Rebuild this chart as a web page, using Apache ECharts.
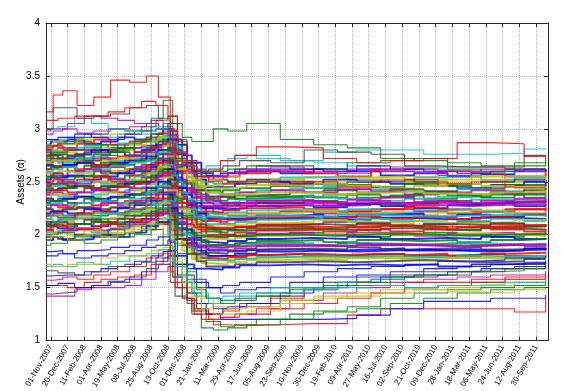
<!DOCTYPE html>
<html><head><meta charset="utf-8">
<script src="https://cdn.jsdelivr.net/npm/echarts/dist/echarts.min.js"></script>
<style>html,body{margin:0;padding:0;background:#fff}#c{width:568px;height:391px}</style>
</head><body><div id="c"></div>
<script>
// ---- axis labels ----
const tickLabels = ['01-Nov-2007','20-Dec-2007','11-Feb-2008','01-Apr-2008','19-May-2008','08-Jul-2008','25-Aug-2008','13-Oct-2008','01-Dec-2008','21-Jan-2009','11-Mar-2009','29-Apr-2009','17-Jun-2009','05-Aug-2009','23-Sep-2009','10-Nov-2009','30-Dec-2009','19-Feb-2010','09-Apr-2010','27-May-2010','16-Jul-2010','02-Sep-2010','21-Oct-2010','09-Dec-2010','28-Jan-2011','18-Mar-2011','06-May-2011','24-Jun-2011','12-Aug-2011','30-Sep-2011'];
const firstTick = 2, tickStep = 7, nWeeks = 211;
const yTicks = [1, 1.5, 2, 2.5, 3, 3.5, 4];

// ---- sample dates (week index) ----
const gridA = [0,2,9,16,23,30,37,44,49,53,57,61,65,70,76,84,98,112,126,140,154,168,182,196,209];
const gridB = [0,5,12,19,26,33,40,46,51,55,59,63,67,73,79,88,102,116,130,144,158,172,186,200,209];
const gridC = [0,3,7,13,20,27,35,42,47,52,54,59,62,68,74,81,94,108,122,136,150,164,178,192,209];

// ---- main band ----
const m01=[2.85,2.88,2.9,2.86,2.88,2.92,2.9,2.95,3.0,2.9,2.75,2.68,2.58,2.55,2.58,2.6,2.58,2.62,2.6,2.56,2.58,2.55,2.57,2.6,2.62];
const m02=[2.82,2.84,2.8,2.86,2.9,2.85,2.88,2.92,2.96,2.85,2.7,2.62,2.55,2.52,2.55,2.58,2.6,2.58,2.55,2.6,2.62,2.6,2.58,2.55,2.6];
const m03=[2.8,2.78,2.82,2.84,2.8,2.86,2.82,2.9,2.94,2.82,2.68,2.58,2.5,2.48,2.5,2.52,2.54,2.55,2.52,2.5,2.54,2.56,2.52,2.54,2.52];
const m04=[2.76,2.8,2.78,2.75,2.82,2.8,2.85,2.88,2.92,2.8,2.62,2.54,2.48,2.46,2.48,2.5,2.52,2.5,2.54,2.55,2.5,2.52,2.55,2.5,2.52];
const m05=[2.75,2.72,2.76,2.8,2.78,2.75,2.8,2.85,2.9,2.76,2.6,2.52,2.45,2.45,2.48,2.5,2.48,2.52,2.5,2.48,2.46,2.44,2.47,2.5,2.46];
const m06=[2.72,2.75,2.7,2.72,2.76,2.78,2.75,2.82,2.88,2.74,2.58,2.5,2.42,2.4,2.42,2.44,2.46,2.44,2.47,2.45,2.48,2.46,2.44,2.47,2.46];
const m07=[2.7,2.68,2.72,2.74,2.7,2.72,2.76,2.8,2.86,2.72,2.55,2.46,2.4,2.38,2.4,2.42,2.44,2.46,2.43,2.41,2.4,2.43,2.41,2.44,2.42];
const m08=[2.68,2.7,2.66,2.7,2.72,2.68,2.74,2.78,2.84,2.7,2.52,2.44,2.38,2.36,2.38,2.4,2.42,2.4,2.43,2.41,2.38,2.4,2.42,2.39,2.41];
const m09=[2.65,2.66,2.68,2.64,2.66,2.7,2.72,2.76,2.82,2.66,2.5,2.42,2.36,2.35,2.37,2.38,2.4,2.42,2.4,2.43,2.41,2.38,2.4,2.42,2.44];
const m10=[2.62,2.64,2.6,2.65,2.68,2.66,2.7,2.72,2.8,2.64,2.48,2.4,2.34,2.32,2.34,2.36,2.37,2.35,2.38,2.36,2.39,2.37,2.35,2.38,2.36];
const m11=[2.6,2.62,2.64,2.6,2.62,2.65,2.68,2.7,2.78,2.62,2.46,2.38,2.32,2.3,2.31,2.33,2.34,2.36,2.34,2.32,2.34,2.36,2.33,2.32,2.34];
const m12=[2.58,2.56,2.6,2.62,2.58,2.6,2.64,2.68,2.76,2.6,2.44,2.35,2.3,2.28,2.3,2.32,2.33,2.31,2.33,2.35,2.31,2.3,2.32,2.34,2.32];
const m13=[2.55,2.58,2.55,2.56,2.6,2.58,2.62,2.66,2.72,2.56,2.4,2.32,2.27,2.26,2.28,2.3,2.3,2.32,2.29,2.28,2.3,2.32,2.29,2.31,2.3];
const m14=[2.52,2.54,2.56,2.52,2.55,2.58,2.6,2.64,2.7,2.54,2.38,2.3,2.25,2.24,2.25,2.27,2.28,2.26,2.29,2.27,2.25,2.28,2.3,2.27,2.29];
const m15=[2.5,2.52,2.48,2.52,2.54,2.5,2.56,2.62,2.68,2.52,2.36,2.28,2.22,2.21,2.23,2.25,2.26,2.24,2.22,2.24,2.26,2.24,2.22,2.24,2.26];
const m16=[2.48,2.46,2.5,2.5,2.48,2.52,2.55,2.6,2.66,2.5,2.34,2.25,2.2,2.19,2.21,2.23,2.24,2.22,2.24,2.21,2.23,2.24,2.22,2.2,2.22];
const m17=[2.45,2.48,2.45,2.46,2.5,2.48,2.52,2.58,2.64,2.46,2.3,2.22,2.18,2.17,2.19,2.2,2.21,2.23,2.2,2.21,2.19,2.21,2.23,2.2,2.21];
const m18=[2.42,2.44,2.46,2.42,2.45,2.48,2.5,2.55,2.62,2.44,2.28,2.2,2.16,2.15,2.16,2.18,2.19,2.17,2.19,2.2,2.17,2.19,2.17,2.19,2.2];
const m19=[2.4,2.42,2.4,2.44,2.42,2.45,2.48,2.52,2.58,2.42,2.26,2.18,2.13,2.12,2.14,2.16,2.17,2.15,2.17,2.15,2.17,2.15,2.17,2.19,2.17];
const m20=[2.38,2.36,2.4,2.38,2.4,2.42,2.45,2.5,2.56,2.4,2.24,2.15,2.1,2.1,2.12,2.14,2.15,2.13,2.15,2.13,2.11,2.13,2.15,2.13,2.15];
const m21=[2.35,2.38,2.35,2.36,2.4,2.38,2.42,2.48,2.54,2.36,2.2,2.12,2.08,2.07,2.09,2.11,2.12,2.14,2.12,2.11,2.13,2.11,2.12,2.14,2.12];
const m22=[2.32,2.34,2.36,2.32,2.35,2.38,2.4,2.45,2.52,2.34,2.18,2.1,2.06,2.05,2.07,2.09,2.1,2.09,2.11,2.08,2.1,2.09,2.11,2.09,2.1];
const m23=[2.3,2.32,2.3,2.34,2.32,2.35,2.38,2.42,2.48,2.32,2.16,2.08,2.03,2.02,2.04,2.06,2.07,2.05,2.07,2.09,2.07,2.05,2.07,2.08,2.07];
const m24=[2.28,2.26,2.3,2.28,2.3,2.32,2.35,2.4,2.46,2.3,2.14,2.05,2.0,2.0,2.02,2.04,2.05,2.03,2.05,2.03,2.05,2.07,2.05,2.03,2.05];
const m25=[2.25,2.28,2.25,2.26,2.3,2.28,2.32,2.38,2.44,2.26,2.1,2.02,1.98,1.97,1.99,2.01,2.02,2.0,2.02,2.01,1.99,2.01,2.02,2.0,2.02];
const m26=[2.22,2.24,2.26,2.22,2.25,2.28,2.3,2.35,2.42,2.24,2.08,2.0,1.96,1.95,1.97,1.99,2.0,1.99,2.01,2.0,1.99,2.01,2.0,1.99,2.01];
const m27=[2.2,2.22,2.2,2.24,2.22,2.25,2.28,2.32,2.38,2.2,2.05,1.97,1.93,1.92,1.94,1.96,1.97,1.96,1.98,1.96,1.97,1.96,1.98,1.96,1.97];
const m28=[2.18,2.16,2.2,2.18,2.2,2.22,2.25,2.3,2.36,2.18,2.02,1.95,1.9,1.9,1.92,1.94,1.95,1.93,1.95,1.94,1.95,1.93,1.95,1.96,1.95];
const m29=[2.15,2.18,2.15,2.16,2.2,2.18,2.22,2.28,2.32,2.14,2.0,1.92,1.88,1.87,1.89,1.91,1.92,1.9,1.92,1.91,1.9,1.92,1.91,1.9,1.92];
const m30=[2.12,2.14,2.16,2.12,2.15,2.18,2.2,2.25,2.3,2.12,1.97,1.9,1.86,1.85,1.87,1.89,1.9,1.89,1.91,1.9,1.89,1.9,1.91,1.89,1.9];
const m31=[2.1,2.12,2.1,2.14,2.12,2.15,2.18,2.22,2.28,2.1,1.95,1.88,1.83,1.82,1.84,1.86,1.87,1.86,1.88,1.86,1.87,1.88,1.86,1.87,1.88];
const m32=[2.08,2.06,2.1,2.08,2.1,2.12,2.15,2.2,2.25,2.06,1.92,1.85,1.8,1.8,1.82,1.84,1.85,1.84,1.85,1.86,1.85,1.84,1.85,1.87,1.85];
const m33=[2.05,2.08,2.05,2.06,2.1,2.08,2.12,2.18,2.22,2.04,1.9,1.82,1.78,1.77,1.79,1.81,1.82,1.81,1.82,1.81,1.82,1.8,1.82,1.83,1.82];
const m34=[2.02,2.04,2.06,2.02,2.05,2.08,2.1,2.15,2.2,2.02,1.88,1.8,1.76,1.75,1.77,1.79,1.8,1.79,1.8,1.79,1.78,1.8,1.79,1.8,1.81];
const m35=[2.0,2.02,2.0,2.04,2.02,2.05,2.08,2.12,2.16,1.98,1.85,1.77,1.73,1.72,1.74,1.76,1.77,1.76,1.78,1.77,1.76,1.78,1.77,1.78,1.79];
const m36=[1.98,1.96,2.0,1.98,2.0,2.02,2.05,2.1,2.14,1.96,1.82,1.75,1.7,1.7,1.72,1.74,1.75,1.74,1.75,1.76,1.75,1.74,1.75,1.77,1.77];
const m37=[1.95,1.98,1.95,1.96,2.0,1.98,2.02,2.08,2.12,1.93,1.8,1.72,1.68,1.67,1.69,1.71,1.72,1.71,1.72,1.71,1.72,1.7,1.72,1.73,1.74];
const n01=[2.84,2.86,2.88,2.85,2.82,2.86,2.88,2.92,2.98,2.85,2.65,2.52,2.42,2.36,2.34,2.35,2.36,2.38,2.35,2.37,2.34,2.36,2.38,2.35,2.36];
const n02=[2.78,2.76,2.74,2.78,2.8,2.82,2.78,2.84,2.9,2.8,2.68,2.6,2.55,2.52,2.5,2.52,2.5,2.48,2.5,2.52,2.5,2.48,2.5,2.52,2.5];
const n03=[2.74,2.72,2.75,2.7,2.72,2.74,2.78,2.82,2.86,2.7,2.5,2.35,2.25,2.2,2.18,2.2,2.22,2.2,2.22,2.24,2.22,2.2,2.22,2.24,2.22];
const n04=[2.68,2.7,2.69,2.66,2.7,2.72,2.7,2.76,2.84,2.72,2.6,2.52,2.46,2.44,2.45,2.47,2.46,2.48,2.46,2.44,2.46,2.48,2.46,2.44,2.46];
const n05=[2.62,2.64,2.62,2.66,2.64,2.62,2.66,2.7,2.78,2.6,2.4,2.25,2.15,2.1,2.08,2.1,2.1,2.12,2.1,2.08,2.1,2.12,2.1,2.08,2.1];
const n06=[2.58,2.6,2.58,2.56,2.6,2.62,2.6,2.66,2.74,2.62,2.5,2.44,2.4,2.38,2.38,2.4,2.4,2.38,2.4,2.41,2.39,2.38,2.4,2.41,2.39];
const n07=[2.54,2.52,2.55,2.56,2.53,2.56,2.58,2.62,2.7,2.5,2.3,2.15,2.05,2.0,1.98,2.0,2.02,2.0,1.98,2.0,2.02,2.0,1.98,2.0,2.02];
const n08=[2.48,2.5,2.48,2.5,2.52,2.5,2.54,2.58,2.64,2.52,2.42,2.36,2.32,2.3,2.3,2.32,2.32,2.3,2.32,2.3,2.32,2.3,2.31,2.32,2.3];
const n09=[2.44,2.42,2.44,2.46,2.44,2.46,2.5,2.54,2.6,2.4,2.2,2.05,1.95,1.9,1.9,1.92,1.92,1.9,1.92,1.9,1.91,1.92,1.9,1.91,1.92];
const n10=[2.38,2.4,2.38,2.4,2.42,2.4,2.44,2.48,2.56,2.45,2.36,2.3,2.27,2.26,2.27,2.28,2.28,2.27,2.28,2.3,2.28,2.27,2.28,2.29,2.28];
const n11=[2.34,2.32,2.34,2.36,2.34,2.36,2.38,2.44,2.5,2.3,2.1,1.96,1.88,1.85,1.85,1.86,1.86,1.85,1.86,1.87,1.85,1.86,1.85,1.86,1.87];
const n12=[2.28,2.3,2.28,2.3,2.32,2.3,2.34,2.4,2.46,2.34,2.25,2.2,2.17,2.16,2.17,2.18,2.18,2.17,2.19,2.18,2.17,2.18,2.19,2.18,2.19];
const n13=[2.24,2.22,2.24,2.26,2.24,2.26,2.3,2.34,2.4,2.2,2.0,1.88,1.82,1.8,1.8,1.81,1.82,1.8,1.81,1.82,1.8,1.81,1.82,1.8,1.81];
const n14=[2.18,2.2,2.18,2.2,2.22,2.2,2.24,2.28,2.34,2.24,2.15,2.1,2.07,2.06,2.07,2.08,2.08,2.07,2.08,2.09,2.08,2.07,2.08,2.09,2.08];
const n15=[2.14,2.12,2.14,2.16,2.14,2.16,2.2,2.24,2.3,2.1,1.92,1.82,1.78,1.76,1.77,1.78,1.79,1.78,1.79,1.78,1.79,1.78,1.79,1.8,1.79];
const n16=[2.08,2.1,2.08,2.1,2.12,2.1,2.14,2.18,2.24,2.14,2.06,2.02,1.99,1.98,1.99,2.0,2.0,1.99,2.0,2.01,2.0,1.99,2.0,2.01,2.0];
const n17=[2.04,2.02,2.04,2.06,2.04,2.06,2.1,2.14,2.2,2.05,1.96,1.92,1.89,1.88,1.89,1.9,1.9,1.89,1.9,1.91,1.9,1.89,1.9,1.91,1.9];
const n18=[2.8,2.82,2.8,2.78,2.8,2.82,2.84,2.88,2.94,2.78,2.58,2.44,2.34,2.3,2.28,2.3,2.3,2.28,2.3,2.29,2.3,2.28,2.3,2.31,2.3];
const n19=[2.66,2.64,2.66,2.68,2.66,2.68,2.7,2.74,2.8,2.64,2.45,2.3,2.2,2.15,2.14,2.15,2.16,2.15,2.14,2.16,2.15,2.14,2.16,2.15,2.14];
const n20=[2.46,2.48,2.46,2.44,2.46,2.48,2.5,2.56,2.62,2.45,2.3,2.16,2.08,2.05,2.04,2.05,2.06,2.05,2.04,2.06,2.05,2.04,2.06,2.05,2.04];

// ---- lower tail ----
const t01=[1.42,1.42,1.48,1.5,1.5,1.52,1.58,1.65,1.7,1.5,1.38,1.3,1.25,1.22,1.25,1.3,1.38,1.45,1.5,1.55,1.58,1.6,1.62,1.62,1.66];
const t02=[1.44,1.45,1.46,1.5,1.52,1.55,1.6,1.68,1.72,1.55,1.42,1.35,1.28,1.25,1.3,1.35,1.42,1.5,1.55,1.58,1.6,1.62,1.65,1.68,1.7];
const t03=[1.52,1.52,1.5,1.55,1.58,1.6,1.62,1.72,1.78,1.6,1.4,1.28,1.2,1.15,1.14,1.15,1.16,1.16,1.24,1.3,1.3,1.3,1.3,1.27,1.4];
const t04=[1.52,1.54,1.5,1.52,1.56,1.58,1.65,1.75,1.8,1.62,1.45,1.35,1.25,1.2,1.2,1.2,1.2,1.21,1.24,1.3,1.37,1.37,1.4,1.4,1.43];
const t05=[1.57,1.58,1.6,1.58,1.62,1.65,1.7,1.78,1.82,1.65,1.5,1.4,1.3,1.25,1.28,1.32,1.4,1.48,1.52,1.52,1.55,1.55,1.58,1.6,1.62];
const t06=[1.61,1.62,1.62,1.65,1.68,1.7,1.75,1.8,1.84,1.7,1.55,1.45,1.35,1.3,1.32,1.35,1.45,1.5,1.55,1.6,1.62,1.65,1.68,1.7,1.72];
const t07=[1.66,1.64,1.62,1.65,1.7,1.72,1.74,1.78,1.85,1.72,1.58,1.48,1.4,1.38,1.4,1.45,1.5,1.55,1.6,1.62,1.65,1.66,1.68,1.72,1.74];
const t08=[1.7,1.72,1.7,1.74,1.72,1.75,1.8,1.82,1.86,1.75,1.6,1.5,1.42,1.35,1.38,1.42,1.45,1.5,1.55,1.58,1.5,1.52,1.55,1.58,1.6];
const t09=[1.72,1.7,1.72,1.72,1.78,1.8,1.8,1.85,1.88,1.78,1.62,1.5,1.4,1.32,1.3,1.32,1.38,1.42,1.45,1.48,1.48,1.5,1.52,1.55,1.58];
const t10=[1.8,1.82,1.78,1.8,1.82,1.85,1.88,1.9,1.95,1.82,1.68,1.58,1.5,1.45,1.48,1.5,1.55,1.6,1.62,1.65,1.68,1.7,1.72,1.74,1.76];
const t11=[1.84,1.85,1.82,1.85,1.86,1.88,1.9,1.95,1.98,1.85,1.72,1.62,1.55,1.5,1.52,1.55,1.6,1.65,1.68,1.7,1.72,1.75,1.76,1.78,1.8];
const t12=[1.9,1.92,1.95,1.92,1.95,1.98,2.0,2.05,1.9,1.6,1.4,1.25,1.12,1.1,1.12,1.15,1.2,1.28,1.32,1.4,1.45,1.48,1.5,1.52,1.55];
const t13=[2.0,2.02,1.98,2.0,2.05,2.02,2.08,2.12,2.0,1.7,1.45,1.3,1.18,1.13,1.15,1.2,1.25,1.27,1.3,1.35,1.4,1.45,1.48,1.5,1.5];
const t14=[2.05,2.08,2.1,2.05,2.08,2.12,2.15,2.2,2.1,1.8,1.55,1.4,1.25,1.2,1.22,1.25,1.3,1.35,1.4,1.45,1.5,1.52,1.55,1.58,1.6];
const t15=[1.95,1.98,1.95,2.0,1.98,2.02,2.05,2.1,2.0,1.75,1.55,1.42,1.3,1.25,1.25,1.28,1.35,1.4,1.42,1.45,1.48,1.46,1.45,1.48,1.5];
const t16=[2.1,2.12,2.1,2.15,2.12,2.18,2.2,2.25,2.2,1.9,1.65,1.5,1.4,1.35,1.38,1.42,1.48,1.52,1.55,1.6,1.62,1.65,1.66,1.68,1.7];
const t17=[2.15,2.12,2.15,2.18,2.2,2.2,2.25,2.3,2.25,1.95,1.7,1.55,1.45,1.4,1.42,1.45,1.5,1.48,1.5,1.52,1.5,1.52,1.53,1.55,1.58];

// ---- upper outliers ----
const u01=[3.16,3.32,3.36,3.22,3.3,3.46,3.44,3.5,3.3,3.0,2.78,2.66,2.55,2.5,2.48,2.5,2.48,2.5,2.45,2.5,2.52,2.48,2.5,2.45,2.46];
const u02=[3.08,3.1,3.12,3.12,3.16,3.2,3.26,3.22,3.12,2.88,2.7,2.6,2.6,2.7,2.75,2.83,2.82,2.72,2.68,2.7,2.72,2.87,2.86,2.74,2.72];
const u03=[3.0,3.2,3.2,3.1,3.12,3.14,3.2,3.22,3.1,2.9,2.72,2.64,2.6,2.62,2.65,2.7,2.68,2.8,2.78,2.76,2.65,2.64,2.64,2.62,2.6];
const u04=[2.7,2.72,2.75,2.7,2.75,2.8,2.9,3.1,3.27,3.05,2.92,2.88,2.88,3.0,2.98,3.05,2.9,2.85,2.82,2.72,2.7,2.62,2.6,2.65,2.7];
const u05=[3.0,3.02,3.1,3.05,3.0,2.98,2.95,3.0,2.92,2.78,2.65,2.6,2.65,2.7,2.75,2.72,2.7,2.78,2.8,2.8,2.76,2.76,2.77,2.81,2.82];
const u06=[2.98,3.0,3.05,3.12,3.1,3.08,3.05,3.08,2.98,2.8,2.65,2.58,2.55,2.55,2.58,2.6,2.6,2.58,2.62,2.6,2.58,2.6,2.62,2.6,2.62];
const u07=[2.95,2.98,3.0,2.96,2.98,3.0,3.02,3.05,3.0,2.82,2.66,2.6,2.55,2.56,2.58,2.62,2.64,2.6,2.58,2.62,2.6,2.56,2.6,2.62,2.6];
const u08=[2.9,2.92,2.95,2.92,2.9,2.95,2.98,3.0,3.05,2.85,2.68,2.6,2.56,2.58,2.6,2.62,2.62,2.6,2.65,2.62,2.6,2.58,2.6,2.62,2.6];
const u09=[2.75,2.78,2.8,2.82,2.85,2.82,2.88,2.95,3.02,2.8,2.65,2.6,2.58,2.6,2.62,2.65,2.65,2.62,2.68,2.7,2.72,2.68,2.65,2.68,2.72];
const u10=[2.85,2.88,2.85,2.9,2.92,2.95,2.98,3.05,3.08,2.85,2.62,2.55,2.5,2.52,2.55,2.5,2.52,2.55,2.5,2.52,2.55,2.5,2.52,2.55,2.5];
const u11=[2.9,2.88,2.92,2.95,3.0,2.98,3.02,3.08,3.12,2.9,2.7,2.62,2.6,2.58,2.62,2.65,2.62,2.6,2.62,2.64,2.64,2.64,2.64,2.75,2.72];
const u12=[2.88,2.9,2.92,2.95,2.92,2.95,2.98,3.02,3.05,2.82,2.65,2.58,2.55,2.6,2.72,2.75,2.7,2.68,2.65,2.6,2.62,2.6,2.58,2.6,2.62];

// ---- styling / assembly ----
const palette = {b:'#0000ff', g:'#008000', r:'#ff0000', c:'#00bfbf', m:'#bf00bf', y:'#bfbf00', k:'#404040'};
const cycle = ['b','g','r','c','m','y','k'];
const grids = [gridA, gridB, gridC];
const band = [m01,n01,m02,m03,n18,m04,n02,m05,m06,n03,m07,m08,n04,m09,n19,m10,n05,m11,m12,n06,m13,m14,n07,m15,m16,n08,m17,n20,m18,n09,m19,m20,n10,m21,m22,n11,m23,m24,n12,m25,m26,n13,m27,m28,n14,m29,m30,n15,m31,m32,n16,m33,m34,n17,m35,m36,m37];
const tail = [[t01,'m'],[t02,'k'],[t03,'r'],[t04,'b'],[t05,'r'],[t06,'b'],[t07,'k'],[t08,'c'],[t09,'y'],[t10,'b'],[t11,'b'],[t12,'g'],[t13,'g'],[t14,'r'],[t15,'y'],[t16,'g'],[t17,'c']];
const upper = [[u12,'c'],[u11,'k'],[u10,'y'],[u09,'g'],[u08,'b'],[u07,'m'],[u06,'m'],[u05,'c'],[u03,'k'],[u04,'g'],[u02,'r'],[u01,'r']];

function mk(vals, grid, col, w){
  return {type:'line', step:'end', symbol:'none', showSymbol:false, silent:true, z:2,
    lineStyle:{width:w, color:palette[col], opacity:0.85},
    data: vals.map((v,k)=>[grid[k], v])};
}
const series = [];
band.forEach((v,i)=>series.push(mk(v, grids[i%3], cycle[i%7], 1.9)));
tail.forEach((p,i)=>series.push(mk(p[0], grids[(i+1)%3], p[1], 1.1)));
upper.forEach((p,i)=>series.push(mk(p[0], grids[i%3], p[1], 1.1)));

const cats = [];
for (let i=0;i<nWeeks;i++) cats.push(String(i));
const isTick = (i)=> i>=firstTick && (i-firstTick)%tickStep===0 && (i-firstTick)/tickStep < tickLabels.length;
const axisCol = '#262626';
const font = 'Liberation Sans, Arial, sans-serif';

const chart = echarts.init(document.getElementById('c'), null, {renderer:'canvas'});
chart.setOption({
  animation:false,
  backgroundColor:'#fff',
  grid:{left:46, right:20, top:23, bottom:49},
  xAxis:[{
    type:'category', data:cats, boundaryGap:false, position:'bottom',
    axisLine:{show:true, lineStyle:{color:axisCol}},
    axisTick:{show:true, inside:true, length:4, interval:(i)=>isTick(i), lineStyle:{color:axisCol}},
    axisLabel:{interval:(i)=>isTick(i), rotate:60, fontSize:8, color:'#000', fontFamily:font, margin:5,
      formatter:(v,i)=> isTick(Number(v)) ? tickLabels[(Number(v)-firstTick)/tickStep] : ''},
    splitLine:{show:true, interval:(i)=>isTick(i), lineStyle:{type:'dotted', color:'#b8b8b8'}}
  },{
    type:'category', data:cats, boundaryGap:false, position:'top',
    axisLine:{show:true, lineStyle:{color:axisCol}},
    axisTick:{show:true, inside:true, length:4, interval:(i)=>isTick(i), lineStyle:{color:axisCol}},
    axisLabel:{show:false}, splitLine:{show:false}
  }],
  yAxis:[{
    type:'value', min:yTicks[0], max:yTicks[yTicks.length-1], interval:0.5, position:'left',
    name:'Assets (α)', nameLocation:'middle', nameGap:20, nameMoveOverlap:false,
    nameTextStyle:{fontSize:10, color:'#000', fontFamily:font},
    axisLine:{show:true, lineStyle:{color:axisCol}},
    axisTick:{show:true, inside:true, length:4, lineStyle:{color:axisCol}},
    axisLabel:{fontSize:10, color:'#000', fontFamily:font, margin:6},
    splitLine:{show:true, lineStyle:{type:'dotted', color:'#b8b8b8'}}
  },{
    type:'value', min:yTicks[0], max:yTicks[yTicks.length-1], interval:0.5, position:'right',
    axisLine:{show:true, lineStyle:{color:axisCol}},
    axisTick:{show:true, inside:true, length:4, lineStyle:{color:axisCol}},
    axisLabel:{show:false}, splitLine:{show:false}
  }],
  series: series
});
</script></body></html>
